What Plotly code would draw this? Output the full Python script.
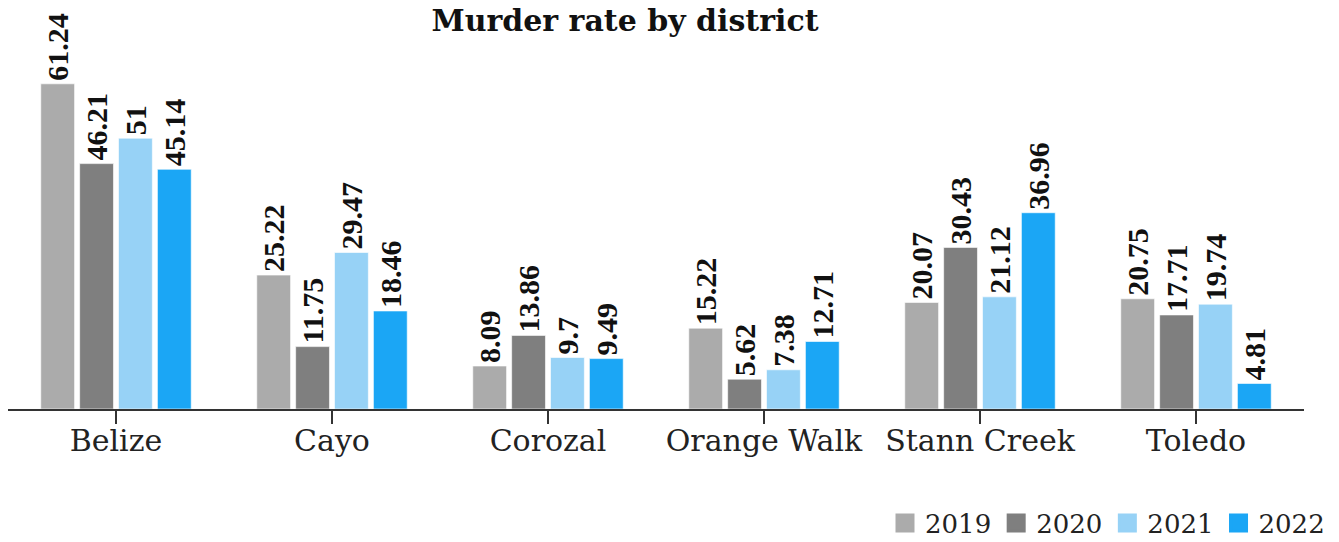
import plotly.graph_objects as go

districts = ["Belize", "Cayo", "Corozal", "Orange Walk", "Stann Creek", "Toledo"]
years = ["2019", "2020", "2021", "2022"]
v2019 = [61.24, 25.22, 8.09, 15.22, 20.07, 20.75]
v2020 = [46.21, 11.75, 13.86, 5.62, 30.43, 17.71]
v2021 = [51, 29.47, 9.7, 7.38, 21.12, 19.74]
v2022 = [45.14, 18.46, 9.49, 12.71, 36.96, 4.81]
colors = ["#ababab", "#7f7f7f", "#97d2f6", "#1ba6f5"]

W, H = 1331, 534
L, R, T, B = 0, 35, 22, 133
PW, PH = W - L - R, H - T - B

series = [v2019, v2020, v2021, v2022]
fig = go.Figure()
for yr, vals, c in zip(years, series, colors):
    fig.add_trace(go.Bar(
        x=districts, y=vals, name=yr, showlegend=False,
        marker=dict(color=c, line=dict(color="rgba(255,255,255,0.6)", width=1)),
        text=[f"{v:g}" for v in vals], textposition="outside", textangle=-90,
        constraintext="none",
        textfont=dict(family="Liberation Serif", size=30, color="#111111", weight="bold"),
        cliponaxis=False,
    ))
# legend entries
for yr, c in zip(years, colors):
    fig.add_trace(go.Scatter(
        x=[None], y=[None], name=yr, mode="markers",
        marker=dict(symbol="square", color=c, size=16, line=dict(color=c, width=3)),
    ))

fig.update_layout(
    width=W, height=H,
    margin=dict(l=L, r=R, t=T, b=B, autoexpand=False),
    plot_bgcolor="white", paper_bgcolor="white",
    barmode="group", bargap=0.28, bargroupgap=0.13,
    title=dict(text="<b>Murder rate by district</b>", x=617/W, xanchor="center",
               y=1.0, yanchor="top", pad=dict(t=2, b=0),
               font=dict(family="DejaVu Serif", size=30, color="#111111")),
    legend=dict(orientation="h", x=1.0 + 26/PW, xanchor="right", y=-114/PH, yanchor="middle",
                font=dict(family="DejaVu Serif", size=26, color="#222222"),
                itemwidth=30, traceorder="normal", tracegroupgap=0),
)
fig.update_xaxes(showline=True, linecolor="#333333", linewidth=1.5,
                 ticks="outside", ticklen=13, tickcolor="#333333", tickwidth=1.5,
                 ticklabelstandoff=-9,
                 tickfont=dict(family="DejaVu Serif", size=30, color="#222222"),
                 showgrid=False, automargin=False)
fig.update_yaxes(range=[0, PH / 5.31], visible=False, showgrid=False, automargin=False)

fig.write_html("out.html")
